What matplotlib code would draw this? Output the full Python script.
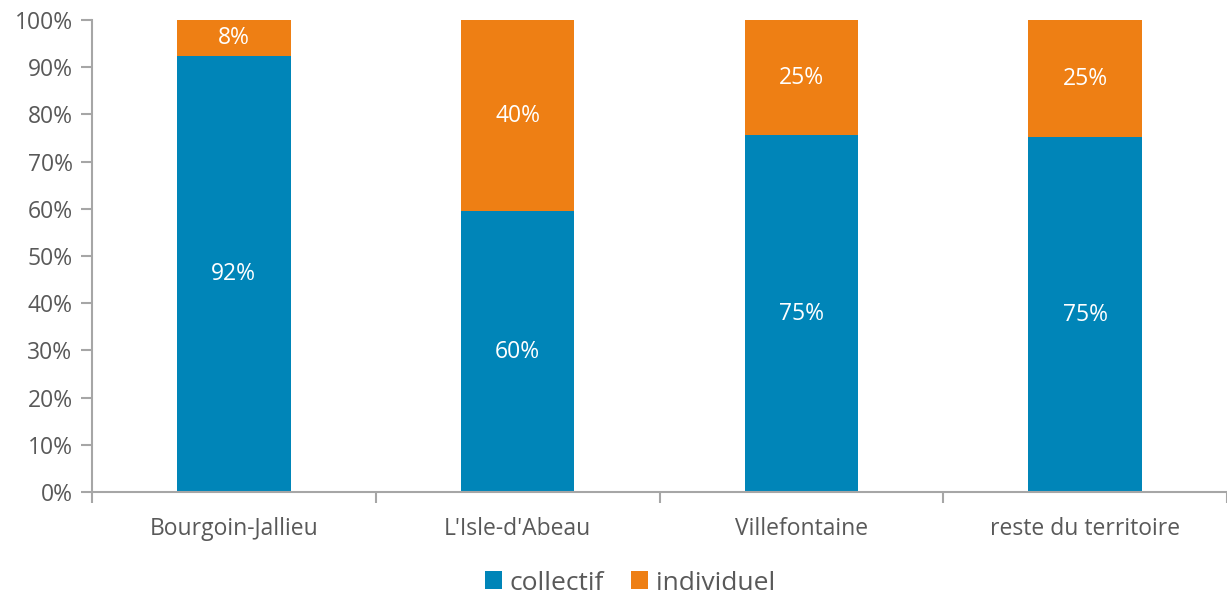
import matplotlib
matplotlib.use("Agg")
import matplotlib.pyplot as plt
from matplotlib.ticker import FixedLocator, PercentFormatter
import numpy as np

categories = ["Bourgoin-Jallieu", "L'Isle-d'Abeau", "Villefontaine", "reste du territoire"]
collectif = [92.4, 59.5, 75.6, 75.2]
individuel = [7.6, 40.5, 24.4, 24.8]
collectif_labels = ["92%", "60%", "75%", "75%"]
individuel_labels = ["8%", "40%", "25%", "25%"]

BLUE = "#0085B8"
ORANGE = "#EE7F14"
GREY = "#595959"
AXIS = "#A6A6A6"

plt.rcParams['font.family'] = ['Open Sans', 'DejaVu Sans']

fig = plt.figure(figsize=(12.27, 5.96), dpi=100)
ax = fig.add_axes([92/1227, 1-492/596, 1-92/1227, (492-20)/596])

x = np.arange(len(categories))
w = 0.4
b1 = ax.bar(x, collectif, w, color=BLUE, label="collectif")
b2 = ax.bar(x, individuel, w, bottom=collectif, color=ORANGE, label="individuel")

for i in range(len(categories)):
    ax.text(x[i], collectif[i]/2, collectif_labels[i], ha='center', va='center',
            color='white', fontsize=16.5)
    ax.text(x[i], collectif[i] + individuel[i]/2, individuel_labels[i], ha='center', va='center',
            color='white', fontsize=16.5)

ax.set_xlim(-0.5, len(categories)-0.5)
ax.set_ylim(0, 100)
ax.yaxis.set_major_locator(FixedLocator(np.arange(0, 101, 10)))
ax.yaxis.set_major_formatter(PercentFormatter(decimals=0))
ax.set_xticks(x)
ax.set_xticklabels(categories)
ax.xaxis.set_minor_locator(FixedLocator(np.arange(-0.5, len(categories), 1.0)))
ax.tick_params(axis='x', which='major', length=0, pad=18, labelsize=16.5, labelcolor=GREY)
ax.tick_params(axis='x', which='minor', length=8, width=1.5, color=AXIS, direction='out')
ax.tick_params(axis='y', which='major', length=8, width=1.5, color=AXIS, labelsize=16.5, labelcolor=GREY, pad=6)

for s in ['top', 'right']:
    ax.spines[s].set_visible(False)
for s in ['left', 'bottom']:
    ax.spines[s].set_color(AXIS)
    ax.spines[s].set_linewidth(1.5)

leg = fig.legend(handles=[b1, b2], labels=["collectif", "individuel"], loc='center',
                 bbox_to_anchor=(630/1227, 1-583/596), ncol=2, frameon=False,
                 fontsize=19, handlelength=0.65, handleheight=0.65, handletextpad=0.3,
                 columnspacing=1.0)
for t in leg.get_texts():
    t.set_color(GREY)

fig.savefig("out.png", dpi=100)
